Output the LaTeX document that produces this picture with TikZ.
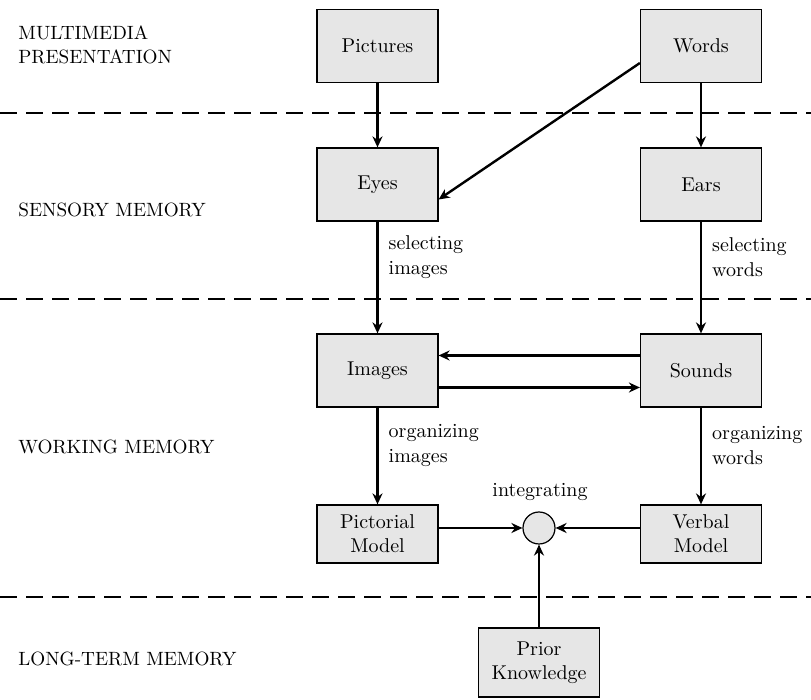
\documentclass[tikz,border=0pt]{standalone}
\usetikzlibrary{arrows.meta, positioning, calc}
\definecolor{boxGrey}{HTML}{E6E6E6}

\begin{document}
\begin{tikzpicture}[x=0.5pt, y=-0.5pt,
  every node/.style={font=\normalsize},
  box/.style={draw, line width=0.6pt, fill=boxGrey, minimum width=60.5pt,
              minimum height=36.5pt, align=center, inner sep=2pt},
  modelbox/.style={box, minimum height=29pt},
  level/.style={anchor=west, align=left, inner sep=0pt, font=\fontsize{9.6}{12}\selectfont},
  note/.style={anchor=west, align=left, inner sep=0pt, xshift=5pt, font=\fontsize{10}{12.5}\selectfont},
  arrow/.style={-{Stealth[length=5.5pt, width=5pt]}, line width=1.2pt},
  divider/.style={dash pattern=on 8.5pt off 4.5pt, line width=0.6pt}
]
\useasboundingbox (0,0) rectangle (811,700);

% level labels
\node[level] (lmm) at (18,45) {MULTIMEDIA\\PRESENTATION};
\node[level] (lsm) at (18,210) {SENSORY MEMORY};
\node[level] (lwm) at (18,447) {WORKING MEMORY};
\node[level] (llt) at (18,659) {LONG-TERM MEMORY};

% dividers
\draw[divider] (0,113) -- (811,113);
\draw[divider] (0,299) -- (811,299);
\draw[divider] (0,597) -- (811,597);

% boxes
\node[box] (pic) at (377.5,46) {Pictures};
\node[box] (words) at (701,46) {Words};
\node[box] (eyes) at (377.5,184.5) {Eyes};
\node[box] (ears) at (701,184.5) {Ears};
\node[box] (img) at (377.5,370.5) {Images};
\node[box] (snd) at (701,370.5) {Sounds};
\node[modelbox] (pm) at (377.5,534) {Pictorial\\Model};
\node[modelbox] (vm) at (701,534) {Verbal\\Model};
\node[draw, line width=0.6pt, fill=boxGrey, circle, minimum size=16pt, inner sep=0pt] (integ) at (539,528) {};
\node[font=\fontsize{10}{12}\selectfont] (intlab) at (540,492) {integrating};
\node[box, minimum height=34.5pt] (prior) at (539,662.5) {Prior\\Knowledge};

% connectors
\draw[arrow] (pic) -- (eyes);
\draw[arrow] (words) -- (ears);
\draw[arrow] ([yshift=-8.5pt]words.west) -- ([yshift=-7.5pt]eyes.east);
\draw[arrow] (eyes) -- node[note, pos=0.32] (selimg) {selecting\\images} (img);
\draw[arrow] (ears) -- node[note, pos=0.32] (selwrd) {selecting\\words} (snd);
\draw[arrow] ([yshift=7.5pt]snd.west) -- ([yshift=7.5pt]img.east);
\draw[arrow] ([yshift=-8.5pt]img.east) -- ([yshift=-8.5pt]snd.west);
\draw[arrow] (img) -- node[note, pos=0.39] (orgimg) {organizing\\images} (pm);
\draw[arrow] (snd) -- node[note, pos=0.39] (orgwrd) {organizing\\words} (vm);
\draw[arrow] (pm.east |- integ) -- (integ);
\draw[arrow] (vm.west |- integ) -- (integ);
\draw[arrow] (prior) -- (integ);
\end{tikzpicture}
\end{document}
